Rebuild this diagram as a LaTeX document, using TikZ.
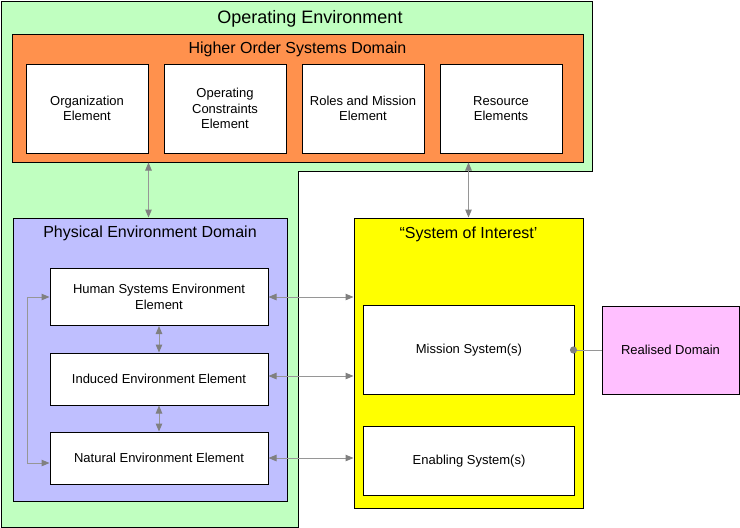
\documentclass[tikz,border=0pt]{standalone}
\usepackage{fontspec}
\setmainfont{Liberation Sans}
\usetikzlibrary{arrows.meta}
\definecolor{oegreen}{RGB}{192,255,192}
\definecolor{hosorange}{RGB}{255,145,77}
\definecolor{pedblue}{RGB}{191,191,255}
\definecolor{soiyellow}{RGB}{255,255,0}
\definecolor{realpink}{RGB}{255,191,255}
\definecolor{conngray}{RGB}{128,128,128}
\definecolor{linegray}{RGB}{150,150,150}
\tikzset{
  elem/.style={draw=black, line width=1pt, fill=white, align=center, inner sep=2pt,
    font=\fontsize{13}{15.5}\selectfont},
  dombox/.style={draw=black, line width=1pt},
  dtitle/.style={font=\fontsize{16}{19}\selectfont, inner sep=0pt},
  tip/.tip={Triangle[length=8pt,width=6.5pt,color=conngray]},
  arr/.style={draw=linegray, line width=1pt, tip-tip},
}
\begin{document}
\begin{tikzpicture}[x=1pt,y=-1pt]
\useasboundingbox (0,0) rectangle (740,528);
% Operating environment (notched container)
\draw[fill=oegreen, line width=1pt] (1,1) -- (592,1) -- (592,171) -- (298,171) -- (298,527) -- (1,527) -- cycle;
\node[font=\fontsize{18}{21}\selectfont, inner sep=0pt] (oetitle) at (310,18.5) {Operating Environment};
% Higher order systems domain
\node[dombox, fill=hosorange, minimum width=571pt, minimum height=128pt] (hosd) at (297.5,98) {};
\node[dtitle] (hosdtitle) at (297.5,49) {Higher Order Systems Domain};
\node[elem, minimum width=122pt, minimum height=89pt] (org) at (87,108.5) {Organization\\Element};
\node[elem, minimum width=122pt, minimum height=89pt] (opc) at (225,108.5) {Operating\\Constraints\\Element};
\node[elem, minimum width=122pt, minimum height=89pt] (roles) at (363,108.5) {Roles and Mission\\Element};
\node[elem, minimum width=122pt, minimum height=89pt] (res) at (501,108.5) {Resource\\Elements};
% Physical environment domain
\node[dombox, fill=pedblue, minimum width=274pt, minimum height=283pt] (ped) at (150,359.5) {};
\node[dtitle] (pedtitle) at (150,233.5) {Physical Environment Domain};
\node[elem, minimum width=218pt, minimum height=57pt] (human) at (159,297) {Human Systems Environment\\Element};
\node[elem, minimum width=218pt, minimum height=52pt] (induced) at (159,379) {Induced Environment Element};
\node[elem, minimum width=218pt, minimum height=52pt] (natural) at (159,458) {Natural Environment Element};
% System of interest
\node[dombox, fill=soiyellow, minimum width=229pt, minimum height=290pt] (soi) at (468.5,363) {};
\node[dtitle] (soititle) at (468.5,234) {“System of Interest’};
\node[elem, minimum width=211pt, minimum height=89pt] (mission) at (469,350) {Mission System(s)};
\node[elem, minimum width=211pt, minimum height=69pt] (enabling) at (469,461) {Enabling System(s)};
% Realised domain
\node[elem, fill=realpink, minimum width=137pt, minimum height=88pt] (realised) at (670.5,350) {Realised Domain};
% Connectors
\draw[arr] (org.east |- hosd.south) -- (org.east |- ped.north);
\draw[arr] (soi.north |- hosd.south) -- (soi.north);
\draw[arr] (human.south) -- (induced.north);
\draw[arr] (induced.south) -- (natural.north);
\draw[arr] (human.east) -- (human.east -| soi.west);
\draw[arr] ([yshift=3pt]induced.east) -- ([yshift=3pt]induced.east -| soi.west);
\draw[arr] (natural.east) -- (natural.east -| soi.west);
\draw[arr] (human.west) -- ++(-22,0) |- ([yshift=-5pt]natural.west);
\draw[draw=linegray, line width=1pt] (mission.east) -- (realised.west);
\fill[conngray] ([xshift=-1.5pt]mission.east) circle (3.6pt);
\end{tikzpicture}
\end{document}
